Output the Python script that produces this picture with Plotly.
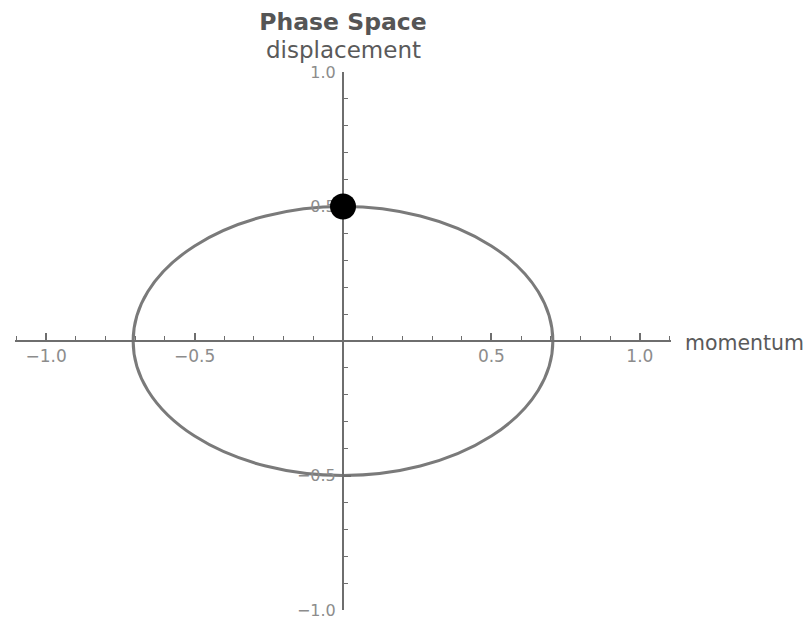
import plotly.graph_objects as go

# ---- data ----
momentum_amplitude = 0.707        # half-width of the phase-space ellipse
displacement_amplitude = 0.5      # half-height of the phase-space ellipse
point_momentum = [0.0]
point_displacement = [0.5]

x_range = [-1.105, 1.105]
y_range = [-1.0, 1.0]

major_ticks = [-1.0, -0.5, 0.5, 1.0]
major_labels = ["\u22121.0", "\u22120.5", "0.5", "1.0"]
x_minor_ticks = [-1.1, -1.0, -0.9, -0.8, -0.7, -0.6, -0.5, -0.4, -0.3, -0.2, -0.1,
                 0.1, 0.2, 0.3, 0.4, 0.5, 0.6, 0.7, 0.8, 0.9, 1.0, 1.1]
y_minor_ticks = [-1.0, -0.9, -0.8, -0.7, -0.6, -0.5, -0.4, -0.3, -0.2, -0.1,
                 0.1, 0.2, 0.3, 0.4, 0.5, 0.6, 0.7, 0.8, 0.9, 1.0]

title_text = "Phase Space"
x_label = "momentum"
y_label = "displacement"

FONT = "DejaVu Sans"
AXIS_COLOR = "#6e6e6e"
CURVE_COLOR = "#7a7a7a"
LABEL_COLOR = "#8c8c8c"

# the page body has an 8px margin; the figure is sized to fill the rest
FIG_W, FIG_H = 804, 611

fig = go.Figure()

fig.add_trace(go.Scatter(
    x=point_momentum, y=point_displacement, mode="markers",
    marker=dict(size=26, color="black"),
    cliponaxis=False, hoverinfo="skip", showlegend=False,
))

fig.add_shape(
    type="circle", xref="x", yref="y",
    x0=-momentum_amplitude, x1=momentum_amplitude,
    y0=-displacement_amplitude, y1=displacement_amplitude,
    line=dict(color=CURVE_COLOR, width=3), layer="below",
)

axis_common = dict(
    showgrid=False, zeroline=False, showline=True,
    linecolor=AXIS_COLOR, linewidth=2,
    tickmode="array", tickvals=major_ticks, ticktext=major_labels,
    ticks="inside", ticklen=7, tickwidth=1.5, tickcolor=AXIS_COLOR,
    anchor="free", position=0.5, layer="below traces",
    ticklabeloverflow="allow", automargin=False,
)

fig.update_xaxes(
    range=x_range, domain=[0, 1], side="bottom",
    tickfont=dict(family=FONT, size=17, color=LABEL_COLOR),
    minor=dict(tickmode="array", tickvals=x_minor_ticks, ticks="inside",
               ticklen=4, tickwidth=1.2, tickcolor=AXIS_COLOR),
    **axis_common,
)
fig.update_yaxes(
    range=y_range, domain=[0, 1], side="left",
    tickfont=dict(family=FONT, size=16, color=LABEL_COLOR),
    ticklabelstandoff=3,
    minor=dict(tickmode="array", tickvals=y_minor_ticks, ticks="inside",
               ticklen=4, tickwidth=1.2, tickcolor=AXIS_COLOR),
    **axis_common,
)

fig.add_annotation(
    text=x_label, xref="x", yref="y", x=x_range[1], y=0,
    xanchor="left", yanchor="middle", xshift=12, yshift=-2, showarrow=False,
    font=dict(family=FONT, size=20.5, color="#5a5a5a"),
)
fig.add_annotation(
    text=y_label, xref="x", yref="paper", x=0, y=1.041,
    xanchor="center", yanchor="middle", showarrow=False,
    font=dict(family=FONT, size=23, color="#5a5a5a"),
)

fig.update_layout(
    width=FIG_W, height=FIG_H,
    margin=dict(l=7, r=141, t=64, b=9, autoexpand=False),
    paper_bgcolor="white", plot_bgcolor="white",
    title=dict(text="<b>" + title_text + "</b>", x=335 / FIG_W, xanchor="center",
               xref="container", yref="container", y=1 - 14 / FIG_H, yanchor="middle",
               font=dict(family=FONT, size=23.5, color="#555555")),
    showlegend=False,
)

fig.write_html("out.html")
